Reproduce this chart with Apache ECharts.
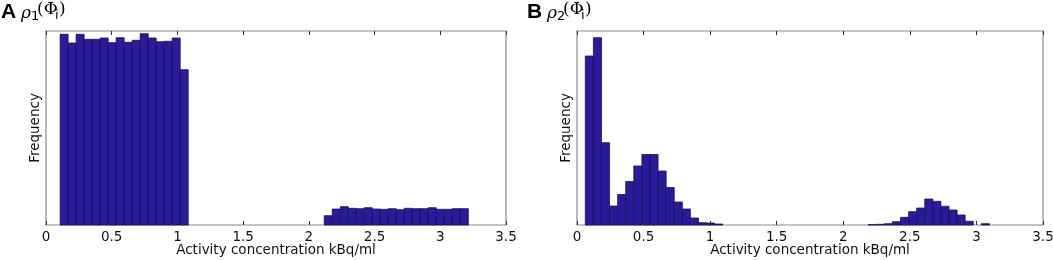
<!DOCTYPE html>
<html>
<head>
<meta charset="utf-8">
<script src="https://cdn.jsdelivr.net/npm/echarts@6/dist/echarts.min.js"></script>
<style>
  html, body { margin: 0; padding: 0; background: #fff; }
  #chart { width: 1053px; height: 260px; }
</style>
</head>
<body>
<div id="chart"></div>
<script>
// x ticks shared by both panels
var xTicks = [0, 0.5, 1, 1.5, 2, 2.5, 3, 3.5];

// panel A histogram: first bin edge, bin width, counts per bin
var binStartA = 0.1075;
var binWidthA = 0.0609;
var countsA = [
    190.7, 182, 190.7, 185.7, 185.7, 187, 182.3, 187.3, 182.7, 184.7, 191.3, 187, 183.3, 183.7, 187, 155.3,
    0, 0, 0, 0, 0, 0, 0, 0, 0, 0, 0, 0, 0, 0, 0, 0, 0,
    9.3, 16, 18.3, 16.7, 16.3, 17.3, 16, 15.7, 16.3, 15.3, 16.7, 16.3, 16.3, 17.3, 15.7, 15.7, 16.3, 16.3
];

// panel B histogram
var binStartB = 0.0625;
var binWidthB = 0.0607;
var countsB = [
    169, 187.3, 82.3, 19, 30.5, 43.5, 59, 70.5, 70.5, 54, 37.5, 23, 16, 7, 2.3, 2, 1,
    0, 0, 0, 0, 0, 0, 0, 0, 0, 0, 0, 0, 0, 0, 0, 0, 0, 0,
    0.3, 0.7, 1.3, 3.3, 7.7, 13.3, 17, 26, 23.7, 18.7, 15, 10, 3.7, 0, 1.3
];

var yMax = 194;

function toBins(start, width, counts) {
    var out = [];
    for (var i = 0; i < counts.length; i++) {
        if (counts[i] > 0) {
            out.push([start + i * width, start + (i + 1) * width, counts[i]]);
        }
    }
    return out;
}

function renderBar(params, api) {
    var p0 = api.coord([api.value(0), api.value(2)]);
    var p1 = api.coord([api.value(1), 0]);
    return {
        type: 'rect',
        shape: { x: p0[0], y: p0[1], width: p1[0] - p0[0], height: p1[1] - p0[1] },
        style: { fill: '#2b1b9b', stroke: '#1a1058', lineWidth: 0.8 }
    };
}

var font = 'DejaVu Sans';

function bottomAxis(idx) {
    return {
        type: 'value', gridIndex: idx, position: 'bottom', min: 0, max: 3.5, interval: 0.5,
        axisLine: { show: false },
        axisTick: { show: true, inside: true, length: 4, lineStyle: { color: '#333' } },
        splitLine: { show: false },
        axisLabel: { color: '#111', fontSize: 13.5, fontFamily: font, margin: 5,
            showMinLabel: true, showMaxLabel: true },
        name: 'Activity concentration kBq/ml',
        nameLocation: 'middle', nameGap: 18.5, nameMoveOverlap: false,
        nameTextStyle: { color: '#111', fontSize: 13.5, fontFamily: font }
    };
}
function topAxis(idx) {
    return {
        type: 'value', gridIndex: idx, position: 'top', min: 0, max: 3.5, interval: 0.5,
        axisLine: { show: false },
        axisTick: { show: true, inside: true, length: 4, lineStyle: { color: '#333' } },
        axisLabel: { show: false }, splitLine: { show: false }
    };
}
function leftAxis(idx) {
    return {
        type: 'value', gridIndex: idx, min: 0, max: yMax,
        axisLine: { show: false }, axisTick: { show: false },
        axisLabel: { show: false }, splitLine: { show: false },
        name: 'Frequency', nameLocation: 'middle', nameGap: 4, nameRotate: 90,
        nameTextStyle: { color: '#111', fontSize: 13.5, fontFamily: font }
    };
}

function titleText(letter, sub, x) {
    return {
        type: 'group', left: x, top: 1,
        children: [
            { type: 'text', x: 0, y: 0, style: { text: letter, font: 'bold 21px Liberation Sans', fill: '#000' } },
            { type: 'text', x: 20, y: 3, style: { text: 'ρ', font: 'italic 17px DejaVu Serif', fill: '#000' } },
            { type: 'text', x: 30, y: 8, style: { text: sub, font: '13px DejaVu Sans', fill: '#000' } },
            { type: 'text', x: 36, y: -1, style: { text: '(Φ', font: '17px DejaVu Serif', fill: '#000' } },
            { type: 'text', x: 54, y: 7, style: { text: 'i', font: '13px DejaVu Sans', fill: '#000' } },
            { type: 'text', x: 58, y: -1, style: { text: ')', font: '17px DejaVu Serif', fill: '#000' } }
        ]
    };
}

var chart = echarts.init(document.getElementById('chart'));
chart.setOption({
    animation: false,
    grid: [
        { left: 46, right: 547, top: 31, bottom: 35, outerBoundsMode: 'none',
          show: true, borderColor: '#8a8a8a', borderWidth: 1.2 },
        { left: 577, right: 10, top: 31, bottom: 35, outerBoundsMode: 'none',
          show: true, borderColor: '#8a8a8a', borderWidth: 1.2 }
    ],
    xAxis: [bottomAxis(0), bottomAxis(1), topAxis(0), topAxis(1)],
    yAxis: [leftAxis(0), leftAxis(1)],
    graphic: [titleText('A', '1', 1), titleText('B', '2', 527)],
    series: [
        { type: 'custom', xAxisIndex: 0, yAxisIndex: 0, renderItem: renderBar,
          encode: { x: [0, 1], y: 2 }, data: toBins(binStartA, binWidthA, countsA) },
        { type: 'custom', xAxisIndex: 1, yAxisIndex: 1, renderItem: renderBar,
          encode: { x: [0, 1], y: 2 }, data: toBins(binStartB, binWidthB, countsB) }
    ]
});
</script>
</body>
</html>
